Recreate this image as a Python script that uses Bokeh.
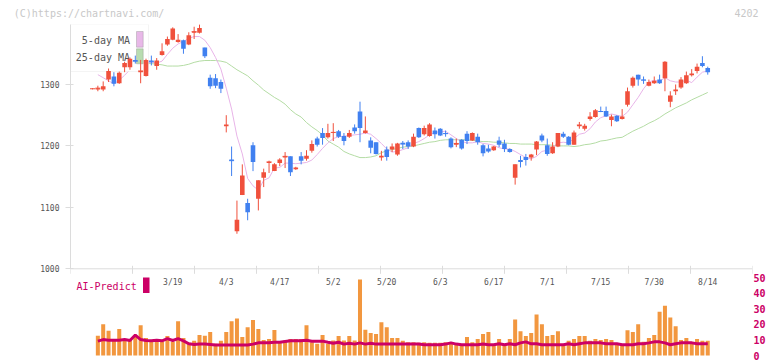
import numpy as np
from bokeh.plotting import figure
from bokeh.models import Range1d, LinearAxis, FixedTicker, Span, BoxAnnotation, Label
from bokeh.core.properties import value
from bokeh.embed import file_html
from bokeh.resources import INLINE

nan = float("nan")

# ---------------- data ----------------
date_labels = ["3/19", "4/3", "4/17", "5/2", "5/20", "6/3", "6/17", "7/1", "7/15", "7/30", "8/14"]
date_label_index = [15, 25, 35, 45, 55, 65, 75, 85, 95, 105, 115]

open_ = [1293, 1292, 1292, 1308, 1313, 1302, 1328, 1328, 1340, 1320,
         1314, 1339, 1330, 1348, 1365, 1373, 1369, 1372, 1365, 1384,
         1384, 1360, 1311, 1310, 1304, 1232, 1178, 1061, 1120, 1107,
         1201, 1114, 1148, 1172, 1159, 1172, 1181, 1183, 1162, 1183,
         1179, 1192, 1212, 1221, 1214, 1221, 1224, 1216, 1215, 1230,
         1256, 1221, 1209, 1206, 1181, 1194, 1194, 1186, 1205, 1206,
         1199, 1229, 1219, 1216, 1225, 1228, 1221, 1212, 1202, 1210,
         1220, 1209, 1215, 1201, 1196, 1193, 1209, 1204, 1195, 1148,
         1177, 1182, 1181, 1194, 1217, 1201, 1188, 1199, 1220, 1215,
         1202, 1232, 1228, 1244, 1247, 1257, 1257, 1242, 1249, 1244,
         1267, 1298, 1316, 1308, 1298, 1302, 1308, 1310, 1272, 1289,
         1295, 1302, 1315, 1322, 1335, 1327]
high = [1294, 1298, 1305, 1326, 1320, 1321, 1337, 1344, 1347, 1340,
        1342, 1347, 1343, 1367, 1378, 1393, 1382, 1373, 1385, 1394,
        1398, 1360, 1316, 1317, 1308, 1250, 1199, 1111, 1170, 1114,
        1206, 1144, 1163, 1176, 1172, 1180, 1190, 1183, 1166, 1190,
        1193, 1209, 1215, 1229, 1236, 1237, 1226, 1221, 1226, 1235,
        1272, 1248, 1214, 1206, 1192, 1199, 1204, 1205, 1208, 1209,
        1220, 1230, 1233, 1237, 1230, 1229, 1225, 1214, 1212, 1211,
        1224, 1222, 1220, 1203, 1202, 1200, 1215, 1210, 1196, 1170,
        1184, 1187, 1187, 1208, 1220, 1212, 1206, 1221, 1223, 1216,
        1225, 1239, 1236, 1255, 1260, 1264, 1264, 1251, 1250, 1260,
        1295, 1313, 1316, 1313, 1308, 1313, 1316, 1338, 1289, 1300,
        1312, 1321, 1325, 1334, 1346, 1329]
low = [1292, 1289, 1289, 1304, 1297, 1301, 1320, 1324, 1334, 1302,
       1313, 1331, 1324, 1347, 1363, 1372, 1368, 1350, 1364, 1374,
       1383, 1343, 1293, 1294, 1286, 1222, 1151, 1057, 1120, 1079,
       1159, 1095, 1133, 1156, 1159, 1167, 1164, 1151, 1161, 1170,
       1176, 1189, 1199, 1202, 1212, 1208, 1213, 1201, 1213, 1220,
       1206, 1220, 1188, 1186, 1176, 1176, 1190, 1184, 1195, 1195,
       1198, 1213, 1217, 1215, 1212, 1216, 1215, 1196, 1198, 1194,
       1203, 1208, 1202, 1183, 1189, 1192, 1198, 1190, 1189, 1137,
       1165, 1168, 1176, 1185, 1206, 1184, 1187, 1198, 1213, 1201,
       1202, 1228, 1225, 1241, 1246, 1255, 1247, 1232, 1239, 1243,
       1264, 1295, 1298, 1301, 1297, 1301, 1301, 1289, 1263, 1283,
       1293, 1301, 1313, 1318, 1328, 1316]
close = [1293, 1294, 1297, 1322, 1301, 1319, 1335, 1342, 1338, 1322,
         1340, 1337, 1339, 1354, 1374, 1391, 1373, 1358, 1380, 1386,
         1392, 1346, 1297, 1298, 1293, 1235, 1176, 1080, 1152, 1092,
         1174, 1144, 1157, 1174, 1170, 1178, 1183, 1157, 1165, 1176,
         1184, 1203, 1202, 1213, 1221, 1222, 1215, 1208, 1221, 1224,
         1229, 1225, 1197, 1187, 1184, 1182, 1199, 1204, 1203, 1199,
         1215, 1214, 1229, 1235, 1219, 1217, 1220, 1198, 1204, 1196,
         1208, 1221, 1206, 1188, 1191, 1199, 1202, 1195, 1190, 1170,
         1174, 1177, 1186, 1207, 1209, 1187, 1199, 1221, 1215, 1202,
         1222, 1234, 1233, 1248, 1258, 1256, 1248, 1248, 1240, 1248,
         1289, 1311, 1308, 1307, 1304, 1306, 1302, 1337, 1282, 1292,
         1308, 1315, 1318, 1329, 1330, 1320]
ma5 = [nan, 1316, 1311, 1306, 1301, 1307, 1315, 1324, 1327, 1331,
       1335, 1336, 1335, 1338, 1349, 1359, 1366, 1370, 1375, 1378,
       1378, 1372, 1360, 1344, 1325, 1294, 1260, 1216, 1187, 1147,
       1135, 1128, 1144, 1148, 1164, 1165, 1172, 1172, 1171, 1172,
       1173, 1177, 1186, 1196, 1205, 1212, 1215, 1216, 1217, 1218,
       1219, 1221, 1219, 1212, 1204, 1195, 1190, 1191, 1194, 1197,
       1204, 1207, 1212, 1218, 1222, 1223, 1224, 1218, 1212, 1207,
       1205, 1205, 1207, 1204, 1203, 1201, 1197, 1195, 1195, 1191,
       1186, 1181, 1179, 1183, 1191, 1193, 1198, 1205, 1206, 1205,
       1212, 1219, 1221, 1228, 1239, 1246, 1249, 1252, 1250, 1248,
       1255, 1267, 1279, 1293, 1304, 1307, 1305, 1311, 1306, 1304,
       1304, 1307, 1303, 1312, 1320, 1322]
ma25 = [1326, 1327, 1328, 1329, 1329, 1330, 1331, 1332, 1333, 1334,
        1334, 1334, 1333, 1332, 1330, 1330, 1330, 1331, 1333, 1336,
        1338, 1339, 1339, 1339, 1338, 1336, 1330, 1324, 1319, 1314,
        1306, 1299, 1291, 1285, 1279, 1274, 1268, 1259, 1252, 1247,
        1238, 1231, 1225, 1218, 1208, 1203, 1198, 1191, 1187, 1184,
        1181, 1181, 1182, 1184, 1189, 1192, 1194, 1196, 1198, 1199,
        1200, 1202, 1204, 1206, 1207, 1209, 1210, 1210, 1210, 1210,
        1210, 1209, 1208, 1207, 1207, 1206, 1206, 1205, 1204, 1204,
        1203, 1203, 1203, 1202, 1202, 1202, 1201, 1200, 1200, 1200,
        1199, 1200, 1202, 1203, 1205, 1208, 1209, 1211, 1213, 1214,
        1219, 1224, 1228, 1232, 1237, 1241, 1246, 1252, 1257, 1262,
        1266, 1270, 1275, 1279, 1283, 1287]
volume = [nan, 12.7, 20, 15.8, 10.6, 17, 10.6, 10.2, 12, 19.4,
          11.2, 9.6, 10.6, 8.8, 12.5, 8.8, 22, 11.2, 8.1, 9.4,
          13.1, 12.7, 15, 7.5, 9.4, 15, 21.9, 23.7, 11.9, 18.1,
          22.7, 17, 10, 10.6, 16.3, 8.5, 9.6, 10.6, 10.6, 10.6,
          19.4, 8.5, 7.5, 13.1, 7.5, 9.6, 12.5, 9.6, 12.5, 9.6,
          48.75, 16.5, 14.4, 13.75, 21.25, 18.1, 11.25, 11.25, 9.4, 8.5,
          8.5, 8.1, 8.5, 8.1, 8.1, 8.1, 8.5, 8.1, 6.9, 6.9,
          11.9, 8.5, 10.6, 13.75, 15, 6.9, 10.6, 6.9, 10.6, 23.1,
          15.6, 12.5, 14.4, 26.25, 20, 12.5, 13.1, 15.6, 6.25, 9.4,
          10.6, 12.5, 12.5, 9.4, 10.6, 10, 10.6, 10, 6.9, 6.9,
          16.25, 15, 20, 8.75, 11.25, 13.1, 28.1, 31.9, 24.4, 18.75,
          10, 11.25, 8.75, 10.6, 9.4, 9.4]
ai_predict = [nan, 9.2, 10.2, 9.8, 9.8, 9.8, 10.2, 9.6, 13.1, 10.2,
              9.6, 9.4, 9.8, 9.4, 10.8, 9.6, 10.8, 9.4, 7.5, 7.0,
              7.3, 7.3, 7.0, 6.7, 6.7, 6.7, 6.7, 6.7, 6.7, 6.7,
              7.3, 8.1, 8.1, 8.1, 8.5, 8.5, 9.0, 9.4, 9.4, 9.4,
              9.8, 9.2, 9.2, 9.2, 8.5, 7.9, 8.5, 7.3, 7.9, 7.3,
              8.1, 7.3, 7.9, 7.3, 7.3, 7.3, 7.3, 7.3, 7.3, 7.3,
              7.3, 7.3, 6.9, 6.9, 6.9, 6.9, 7.3, 8.1, 7.3, 6.9,
              6.9, 6.9, 6.9, 7.3, 6.9, 6.9, 7.5, 6.9, 7.5, 6.9,
              8.1, 8.75, 7.5, 7.5, 6.9, 6.9, 6.9, 6.9, 6.9, 7.5,
              6.9, 7.5, 8.1, 8.1, 8.1, 8.1, 7.5, 7.5, 7.5, 6.9,
              6.9, 6.9, 7.5, 7.5, 8.1, 8.75, 8.75, 8.1, 6.9, 7.5,
              8.1, 8.1, 8.1, 7.5, 7.5, 7.5]
price_ticks = [1000, 1100, 1200, 1300]
volume_ticks = [0, 10, 20, 30, 40, 50]
header_texts = ["(C)https://chartnavi.com/", "4202"]

# ---------------- layout constants (pixels) ----------------
W, H = 772, 361
BORDER_L, BORDER_R, BORDER_T, BORDER_B = 70, 20, 24, 2
FRAME_W = W - BORDER_L - BORDER_R      # 682
FRAME_H = H - BORDER_T - BORDER_B      # 335
STEP_PX = 5.35                          # px per trading day
FIRST_PX = 22.0                         # first candle from frame left
PX_PER_YEN = 0.6144
BASE_Y_PX = 244.3                       # 1000 line from frame top
VOL_ZERO_PX = 331.0                     # volume 0 from frame top
VOL_PX = 1.56                           # px per volume unit
HEADER_CENTERS_PX = [88.5, 746.0]       # header text centres, from canvas left

n = len(close)
idx = np.arange(n)

x_start = -FIRST_PX / STEP_PX
x_end = (FRAME_W - FIRST_PX) / STEP_PX
price_top = 1000 + BASE_Y_PX / PX_PER_YEN
price_bottom = 1000 - (FRAME_H - BASE_Y_PX) / PX_PER_YEN
vol_bottom = -(FRAME_H - VOL_ZERO_PX) / VOL_PX
vol_top = VOL_ZERO_PX / VOL_PX

MONO = "DejaVu Sans Mono"
RED, BLUE = "#f0503c", "#4080f0"
AXIS_C = "#dcdcdc"
MAGENTA = "#cc0066"
TXT = "#555555"

p = figure(width=W, height=H, output_backend="svg", toolbar_location=None,
           x_range=Range1d(x_start, x_end), y_range=Range1d(price_bottom, price_top),
           x_axis_location=None, y_axis_location="left",
           min_border_left=BORDER_L, min_border_right=BORDER_R,
           min_border_top=BORDER_T, min_border_bottom=BORDER_B)
p.outline_line_color = None
p.grid.visible = False
p.background_fill_color = "white"
p.border_fill_color = "white"
p.extra_y_ranges = {"vol": Range1d(vol_bottom, vol_top)}

ax = p.yaxis[0]
ax.ticker = FixedTicker(ticks=price_ticks)
ax.bounds = (price_ticks[0], price_top)
ax.axis_line_color = AXIS_C
ax.major_tick_line_color = AXIS_C
ax.minor_tick_line_color = None
ax.major_tick_in = 3
ax.major_tick_out = 5
ax.major_label_standoff = 6
ax.major_label_text_font = MONO
ax.major_label_text_font_size = "8px"
ax.major_label_text_color = TXT

vax = LinearAxis(y_range_name="vol", ticker=FixedTicker(ticks=volume_ticks),
                 axis_line_color=None, major_tick_line_color=None, minor_tick_line_color=None,
                 major_tick_in=0, major_tick_out=0, major_label_standoff=1,
                 major_label_text_font=MONO, major_label_text_font_style="bold",
                 major_label_text_font_size="10px", major_label_text_color=MAGENTA)
p.add_layout(vax, "right")

# header texts (copyright / code) as an unlined axis in the top border
header_ticks = [round((cx - BORDER_L - FIRST_PX) / STEP_PX, 2) for cx in HEADER_CENTERS_PX]
hax = LinearAxis(ticker=FixedTicker(ticks=header_ticks),
                 major_label_overrides=dict(zip(header_ticks, header_texts)),
                 axis_line_color=None, major_tick_line_color=None, minor_tick_line_color=None,
                 major_tick_in=0, major_tick_out=0, major_label_standoff=6,
                 major_label_text_font=MONO, major_label_text_font_size="10px",
                 major_label_text_color="#c8c8c8")
p.add_layout(hax, "above")

# x axis line and ticks at the price base
p.add_layout(Span(location=price_ticks[0], dimension="width", line_color=AXIS_C,
                  line_width=1, level="underlay"))
x_ticks = np.linspace(x_start, x_end, 12)
p.segment(x0=x_ticks, y0=price_ticks[0] + 3 / PX_PER_YEN, x1=x_ticks,
          y1=price_ticks[0] - 5 / PX_PER_YEN, line_color=AXIS_C, line_width=1)

# date labels
p.text(x=date_label_index, y=[price_ticks[0]] * len(date_labels), text=date_labels,
       y_offset=14, text_align="center", text_baseline="middle",
       text_font=value(MONO), text_font_size="8px", text_color=TXT)

# moving averages (under the legend box)
p.line(idx, ma25, line_color="#b4dca4", line_width=1, level="image")
p.line(idx, ma5, line_color="#e8b4e8", line_width=1, level="image")

# legend box (screen units: from frame left / frame bottom)
def sbox(l, r, t, b, **kw):
    return BoxAnnotation(left=l, right=r, top=t, bottom=b, left_units="screen",
                         right_units="screen", top_units="screen", bottom_units="screen", **kw)

p.add_layout(sbox(0, 78, 335, 288, fill_color="white", fill_alpha=1.0,
                  line_color=AXIS_C, line_width=1, level="underlay"))
p.add_layout(Label(x=59.5, y=319, x_units="screen", y_units="screen", text="5-day MA",
                   text_align="right", text_baseline="middle", text_font=MONO,
                   text_font_size="10px", text_color=TXT, level="underlay"))
p.add_layout(Label(x=59.5, y=302.3, x_units="screen", y_units="screen", text="25-day MA",
                   text_align="right", text_baseline="middle", text_font=MONO,
                   text_font_size="10px", text_color=TXT, level="underlay"))
p.add_layout(sbox(66, 72.7, 328, 312.3, fill_color="#e8b8e8", fill_alpha=1.0,
                  line_color="#777777", line_width=1, level="underlay"))
p.add_layout(sbox(66, 72.7, 310.7, 295.7, fill_color="#b8dcb0", fill_alpha=1.0,
                  line_color="#777777", line_width=1, level="underlay"))

# AI-Predict panel label
p.add_layout(Label(x=6, y=73, x_units="screen", y_units="screen", text="AI-Predict",
                   text_baseline="middle", text_font=MONO, text_font_size="10px",
                   text_color=MAGENTA))
p.add_layout(sbox(72.5, 79, 82, 66.5, fill_color=MAGENTA, fill_alpha=1.0, line_color=None))

# volume bars and AI line
p.vbar(x=idx, top=volume, bottom=0, width=0.75, y_range_name="vol",
       fill_color="#f2973f", line_color=None)
p.line(idx, ai_predict, y_range_name="vol", line_color=MAGENTA, line_width=3)

# candles
o = np.array(open_, float); c = np.array(close, float)
colors = [RED if cc >= oo else BLUE for oo, cc in zip(o, c)]
p.segment(x0=idx, y0=low, x1=idx, y1=high, line_color=colors, line_width=1)
p.vbar(x=idx, top=np.maximum(o, c), bottom=np.minimum(o, c), width=0.86,
       fill_color=colors, line_color=None)
flat = np.abs(o - c) < 3
p.scatter(x=idx[flat], y=c[flat], marker="dash", size=5,
          line_color=[colors[i] for i in idx[flat]], line_width=1)

open("out.html", "w").write(file_html(p, INLINE))
